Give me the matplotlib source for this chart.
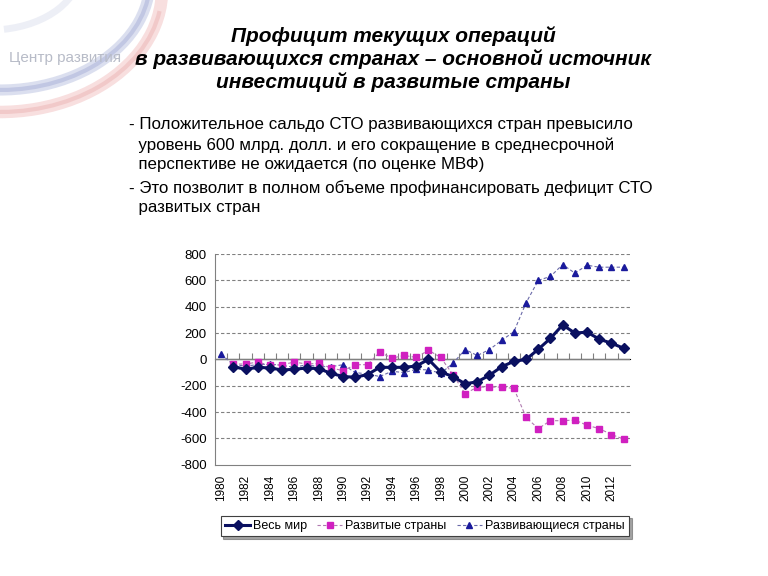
import matplotlib.pyplot as plt
import numpy as np
from matplotlib.patches import Arc

plt.rcParams['font.family'] = ['Liberation Sans', 'DejaVu Sans']

years = list(range(1980, 2014))

# Весь мир (no value for 1980)
world = [np.nan, -55, -75, -60, -65, -80, -75, -65, -70, -105,
         -130, -135, -115, -60, -60, -60, -50, 0, -95, -130,
         -185, -170, -120, -55, -15, 0, 77, 160, 262, 200,
         207, 154, 123, 85]
# Развитые страны
developed = [np.nan, -35, -35, -20, -45, -40, -20, -35, -30, -65,
             -85, -40, -40, 55, 10, 30, 15, 70, 15, -115,
             -260, -210, -210, -210, -220, -440, -525, -465, -465, -460,
             -500, -525, -570, -605]
# Развивающиеся страны
developing = [40, -40, -50, -40, -35, -45, -60, -40, -55, -55,
              -40, -100, -110, -130, -90, -100, -75, -80, -105, -30,
              75, 30, 75, 145, 210, 430, 600, 630, 720, 655,
              715, 700, 700, 700]

yticks = [800, 600, 400, 200, 0, -200, -400, -600, -800]
xlabels = [str(y) for y in range(1980, 2013, 2)]

title = ("Профицит текущих операций\n"
         "в развивающихся странах – основной источник\n"
         "инвестиций в развитые страны")
bullets = ["- Положительное сальдо СТО развивающихся стран превысило",
           "  уровень 600 млрд. долл. и его сокращение в среднесрочной",
           "  перспективе не ожидается (по оценке МВФ)",
           "- Это позволит в полном объеме профинансировать дефицит СТО",
           "  развитых стран"]

fig = plt.figure(figsize=(7.68, 5.76), dpi=100)

# faint logo swooshes in the top-left corner
def swoosh(cx, cy, rx, ry, color, lw, alpha, t1, t2):
    fig.add_artist(Arc((cx / 768, 1 - cy / 576), 2 * rx / 768, 2 * ry / 576,
                       theta1=t1, theta2=t2, transform=fig.transFigure,
                       color=color, lw=lw, alpha=alpha, zorder=0))

swoosh(0, -20, 150, 110, '#b8c0e0', 8, 0.5, -105, 5)
swoosh(0, -20, 150, 110, '#8890c8', 3, 0.3, -95, -10)
swoosh(0, -10, 162, 122, '#f0b8b8', 9, 0.45, -105, 8)
swoosh(0, -10, 162, 122, '#e08888', 3, 0.25, -95, -10)
swoosh(-10, -30, 90, 60, '#d8dcec', 5, 0.45, -80, 0)
fig.text(0.012, 0.893, "Центр развития", fontsize=11, color='#b8bcc8',
         zorder=5)

fig.text(0.512, 0.955, title, ha='center', va='top', fontsize=15,
         fontweight='bold', style='italic', linespacing=1.2)
ys = [0.783, 0.748, 0.714, 0.674, 0.639]
for yy, line in zip(ys, bullets):
    fig.text(0.168, yy, line, fontsize=12.2, va='center')

ax = fig.add_axes([0.280, 0.193, 0.540, 0.366])
x = np.array(years)

ax.plot(x, developing, color='#6a6aa8', lw=0.8, ls=(0, (3, 2)),
        marker='^', ms=4.5, mfc='#1a1a9c', mec='#1a1a9c',
        label='Развивающиеся страны', zorder=3)
ax.plot(x, developed, color='#b07ab0', lw=0.8, ls=(0, (3, 2)),
        marker='s', ms=4.5, mfc='#d020c0', mec='#d020c0',
        label='Развитые страны', zorder=3)
ax.plot(x, world, color='#0a1060', lw=2.2, marker='D', ms=5,
        label='Весь мир', zorder=4)

ax.set_xlim(1979.5, 2013.5)
ax.set_ylim(-800, 800)
ax.set_yticks(yticks)
ax.set_yticklabels([str(v) for v in yticks], fontsize=9.5)
for v in yticks:
    if v not in (0, -800):
        ax.axhline(v, color='#808080', lw=0.8, ls=(0, (3, 2)), zorder=1)
ax.axhline(0, color='#808080', lw=1.0, zorder=1)

ax.set_xticks(range(1980, 2013, 2))
ax.set_xticklabels(xlabels, rotation=90, fontsize=8.5)
ax.tick_params(axis='x', length=0, pad=7)
ax.tick_params(axis='y', length=0, pad=6)

sec = ax.secondary_xaxis(0.5)
sec.set_xticks(np.arange(1980.5, 2013, 1))
sec.tick_params(axis='x', direction='out', length=4, color='#808080',
                labelbottom=False, labeltop=False)
sec.spines['bottom'].set_visible(False)

for s in ['top', 'right']:
    ax.spines[s].set_visible(False)
for s in ['left', 'bottom']:
    ax.spines[s].set_color('#808080')

h, l = ax.get_legend_handles_labels()
leg = fig.legend(h[::-1], l[::-1], loc='center', ncol=3,
                 bbox_to_anchor=(0.553, 0.087), fontsize=9, frameon=True,
                 fancybox=False, shadow=True, handlelength=2.0,
                 columnspacing=0.8, handletextpad=0.25, borderpad=0.35,
                 borderaxespad=0.2)
leg.get_frame().set_edgecolor('#404040')
leg.get_frame().set_linewidth(0.8)

fig.savefig('out.png', dpi=100)
